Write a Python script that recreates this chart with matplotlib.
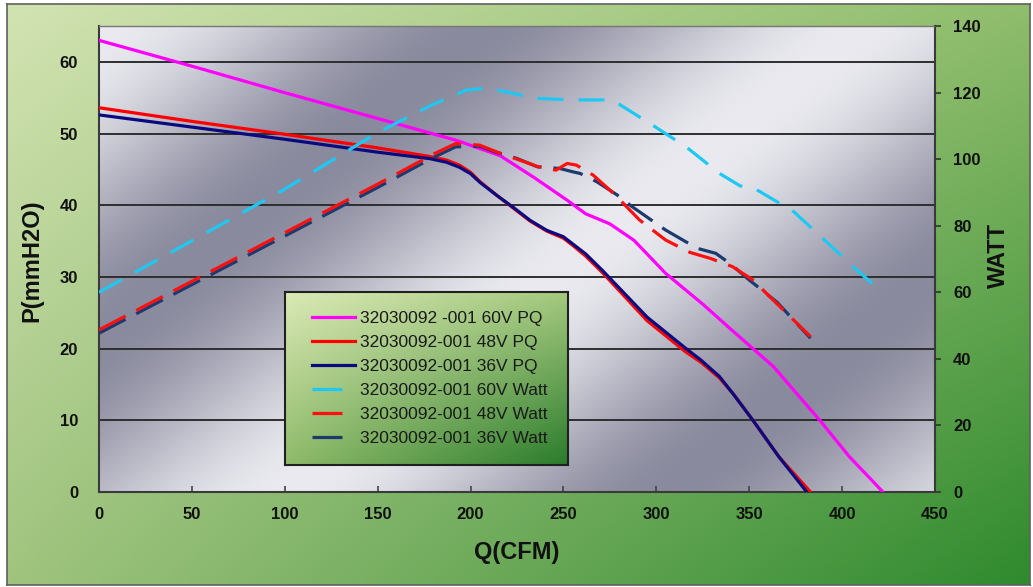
import numpy as np
import matplotlib
matplotlib.use('Agg')
import matplotlib.pyplot as plt
from matplotlib.lines import Line2D

# ---------------- data ----------------
q_60_pq = [0, 50, 100, 150, 193, 205, 216, 234, 252, 262, 275, 288, 305, 325, 341, 352, 363, 377, 388, 404, 422]
p_60_pq = [63.0, 59.4, 55.7, 52.1, 49.0, 47.9, 46.9, 43.9, 40.7, 38.8, 37.4, 35.1, 30.5, 26.2, 22.5, 20.0, 17.5, 13.3, 10.0, 4.9, 0]

q_48_pq = [0, 50, 100, 150, 178, 187, 194, 200, 205, 214, 223, 232, 241, 250, 255, 262, 271, 295, 316, 324, 334, 342, 352, 366, 383]
p_48_pq = [53.6, 51.7, 49.9, 48.0, 46.8, 46.3, 45.6, 44.6, 43.3, 41.4, 39.6, 37.8, 36.4, 35.4, 34.4, 32.9, 30.6, 23.9, 19.5, 18.1, 15.9, 13.5, 10.0, 4.9, 0]

q_36_pq = [0, 50, 100, 150, 178, 187, 194, 200, 205, 214, 223, 232, 241, 250, 255, 262, 271, 295, 316, 324, 334, 341, 352, 366, 381]
p_36_pq = [52.6, 50.9, 49.2, 47.4, 46.5, 46.0, 45.3, 44.4, 43.2, 41.4, 39.7, 37.9, 36.5, 35.6, 34.6, 33.2, 30.9, 24.4, 20.0, 18.4, 16.1, 13.8, 10.0, 4.9, 0]

q_60_w = [0, 50, 100, 150, 180, 198, 209, 221, 234, 255, 275, 280, 298, 316, 334, 345, 355, 374, 406, 422]
w_60_w = [60.0, 75.5, 91.0, 108.0, 116.5, 120.8, 121.3, 120.0, 118.3, 117.8, 117.8, 116.5, 110.2, 103.7, 95.7, 92.0, 90.5, 84.2, 67.7, 59.7]

q_48_w = [0, 50, 100, 150, 180, 192, 205, 214, 225, 236, 246, 252, 257, 266, 277, 284, 291, 305, 318, 329, 341, 352, 361, 383]
w_48_w = [48.7, 63.3, 77.9, 92.5, 101.5, 104.7, 104.2, 102.2, 100.0, 97.8, 96.7, 98.7, 98.2, 95.2, 89.7, 85.7, 81.7, 75.7, 72.0, 70.2, 67.7, 63.7, 58.7, 46.7]

q_36_w = [0, 50, 100, 150, 180, 192, 205, 213, 225, 236, 248, 255, 259, 268, 279, 287, 305, 322, 332, 340, 350, 365, 383]
w_36_w = [47.7, 62.3, 76.9, 91.5, 100.5, 103.7, 103.9, 102.2, 100.2, 97.7, 97.2, 96.2, 95.7, 93.2, 89.2, 85.7, 78.7, 73.2, 71.7, 68.5, 63.7, 57.0, 46.2]

labels = ["32030092 -001 60V PQ", "32030092-001 48V PQ", "32030092-001 36V PQ",
          "32030092-001 60V Watt", "32030092-001 48V Watt", "32030092-001 36V Watt"]

x_ticks = list(range(0, 451, 50))
p_ticks = list(range(0, 61, 10))
w_ticks = list(range(0, 141, 20))

# ---------------- figure ----------------
W, H = 1033, 587
fig = plt.figure(figsize=(W / 100, H / 100), dpi=100)
fig.patch.set_facecolor('white')
FONT = 'Liberation Sans'


def px_rect(x0, y0, x1, y1):
    return [x0 / W, 1 - y1 / H, (x1 - x0) / W, (y1 - y0) / H]


def bilinear(tl, tr, bl, br, nx, ny):
    tl, tr, bl, br = [np.array(matplotlib.colors.to_rgb(c)) for c in (tl, tr, bl, br)]
    u = np.linspace(0, 1, nx)[None, :, None]
    v = np.linspace(0, 1, ny)[:, None, None]
    top = tl * (1 - u) + tr * u
    bot = bl * (1 - u) + br * u
    return top * (1 - v) + bot * v


# outer green background
bg = fig.add_axes(px_rect(7, 4, 1030, 585), zorder=-10)
bg.imshow(bilinear('#d2e3b2', '#8fbd6c', '#a0c47e', '#2f8a2e', 200, 120),
          aspect='auto', extent=[0, 1, 0, 1], interpolation='bilinear')
bg.set_xticks([]); bg.set_yticks([])
for s in bg.spines.values():
    s.set_color('#606060'); s.set_linewidth(1.2)

# main axes
AX0, AY0, AX1, AY1 = 99, 26, 935, 492
ax = fig.add_axes(px_rect(AX0, AY0, AX1, AY1))
Xp, Yp = np.meshgrid(np.arange(AX0, AX1), np.arange(AY0, AY1))
uu = Xp + 1.24 * Yp
vv = 0.5 + 0.5 * np.cos(2 * np.pi * (uu - 137) / 760)
dark = np.array([138, 138, 158]) / 255
light = np.array([234, 234, 240]) / 255
gimg = dark + vv[..., None] * (light - dark)
ax.imshow(gimg, extent=[0, 450, 0, 65], aspect='auto', origin='upper', zorder=0,
          interpolation='bilinear')
ax.set_xlim(0, 450)
ax.set_ylim(0, 65)
ax.set_xticks(x_ticks)
ax.set_yticks(p_ticks)
ax.grid(axis='y', color='#2e2e2e', linewidth=1.4, zorder=1)
ax.grid(axis='x', visible=False)
for s in ax.spines.values():
    s.set_color('#3a3a3a'); s.set_linewidth(1.5)
ax.spines['top'].set_color('#777777'); ax.spines['top'].set_linewidth(1.0)
ax.tick_params(axis='x', direction='in', length=4, width=1.2, color='#444444', pad=11)
ax.tick_params(axis='y', length=0, pad=15)
for lab in ax.get_xticklabels() + ax.get_yticklabels():
    lab.set_fontfamily(FONT); lab.set_fontweight('bold'); lab.set_fontsize(12); lab.set_color('#111111')

LW = 2.3
c_mag, c_red, c_navy = '#ff00ff', '#ff0000', '#0a0a80'
c_cyan, c_wred, c_wblue = '#1ec8f2', '#ff1010', '#1c3a6e'

ax.plot(q_60_pq, p_60_pq, color=c_mag, lw=LW, zorder=3, solid_capstyle='round')
ax.plot(q_48_pq, p_48_pq, color=c_red, lw=LW, zorder=3, solid_capstyle='round')
ax.plot(q_36_pq, p_36_pq, color=c_navy, lw=LW, zorder=4, solid_capstyle='round')

ax2 = ax.twinx()
ax2.set_ylim(0, 140)
ax2.set_yticks(w_ticks)
ax2.tick_params(axis='y', direction='out', length=4, width=1.2, color='#333333', pad=9)
for s in ax2.spines.values():
    s.set_visible(False)
for lab in ax2.get_yticklabels():
    lab.set_fontfamily(FONT); lab.set_fontweight('bold'); lab.set_fontsize(12); lab.set_color('#111111')


def dash(on_px, off_px):
    return (0, (on_px / 1.389 / LW, off_px / 1.389 / LW))


ax2.plot(q_36_w, w_36_w, color=c_wblue, lw=LW, linestyle=dash(30, 12), zorder=3)
ax2.plot(q_48_w, w_48_w, color=c_wred, lw=LW, linestyle=dash(30, 12), zorder=4)
ax2.plot(q_60_w, w_60_w, color=c_cyan, lw=LW, linestyle=dash(26, 15), zorder=5)

# axis titles
fig.text(517 / W, 1 - 553 / H, 'Q(CFM)', ha='center', va='center', fontsize=17,
         fontweight='bold', family=FONT, color='#111111')
fig.text(32 / W, 1 - 261 / H, 'P(mmH2O)', ha='center', va='center', rotation=90,
         fontsize=17, fontweight='bold', family=FONT, color='#111111')
fig.text(998 / W, 1 - 256 / H, 'WATT', ha='center', va='center', rotation=90,
         fontsize=17, fontweight='bold', family=FONT, color='#111111')

# legend box with gradient
lax = fig.add_axes(px_rect(285, 292, 568, 465), zorder=5)
lax.imshow(bilinear('#dbe9b6', '#a4c97e', '#8fbb6a', '#2b7c2c', 100, 60),
           aspect='auto', extent=[0, 1, 0, 1], interpolation='bilinear')
lax.set_xlim(0, 1); lax.set_ylim(0, 1)
lax.set_xticks([]); lax.set_yticks([])
for s in lax.spines.values():
    s.set_color('#202020'); s.set_linewidth(1.5)

handles = [
    Line2D([], [], color=c_mag, lw=LW),
    Line2D([], [], color=c_red, lw=LW),
    Line2D([], [], color=c_navy, lw=LW),
    Line2D([], [], color=c_cyan, lw=LW, linestyle=dash(30, 200)),
    Line2D([], [], color=c_wred, lw=LW, linestyle=dash(30, 200)),
    Line2D([], [], color=c_wblue, lw=LW, linestyle=dash(30, 200)),
]
leg = lax.legend(handles, labels, loc='center left', bbox_to_anchor=((312 - 285) / 283, 0.5),
                 frameon=False, borderpad=0, borderaxespad=0, handlelength=2.5,
                 handletextpad=0.25, labelspacing=0.5,
                 prop={'family': FONT, 'size': 12.5})
for t in leg.get_texts():
    t.set_color('#1a1a1a')

fig.savefig('out.png', dpi=100)
